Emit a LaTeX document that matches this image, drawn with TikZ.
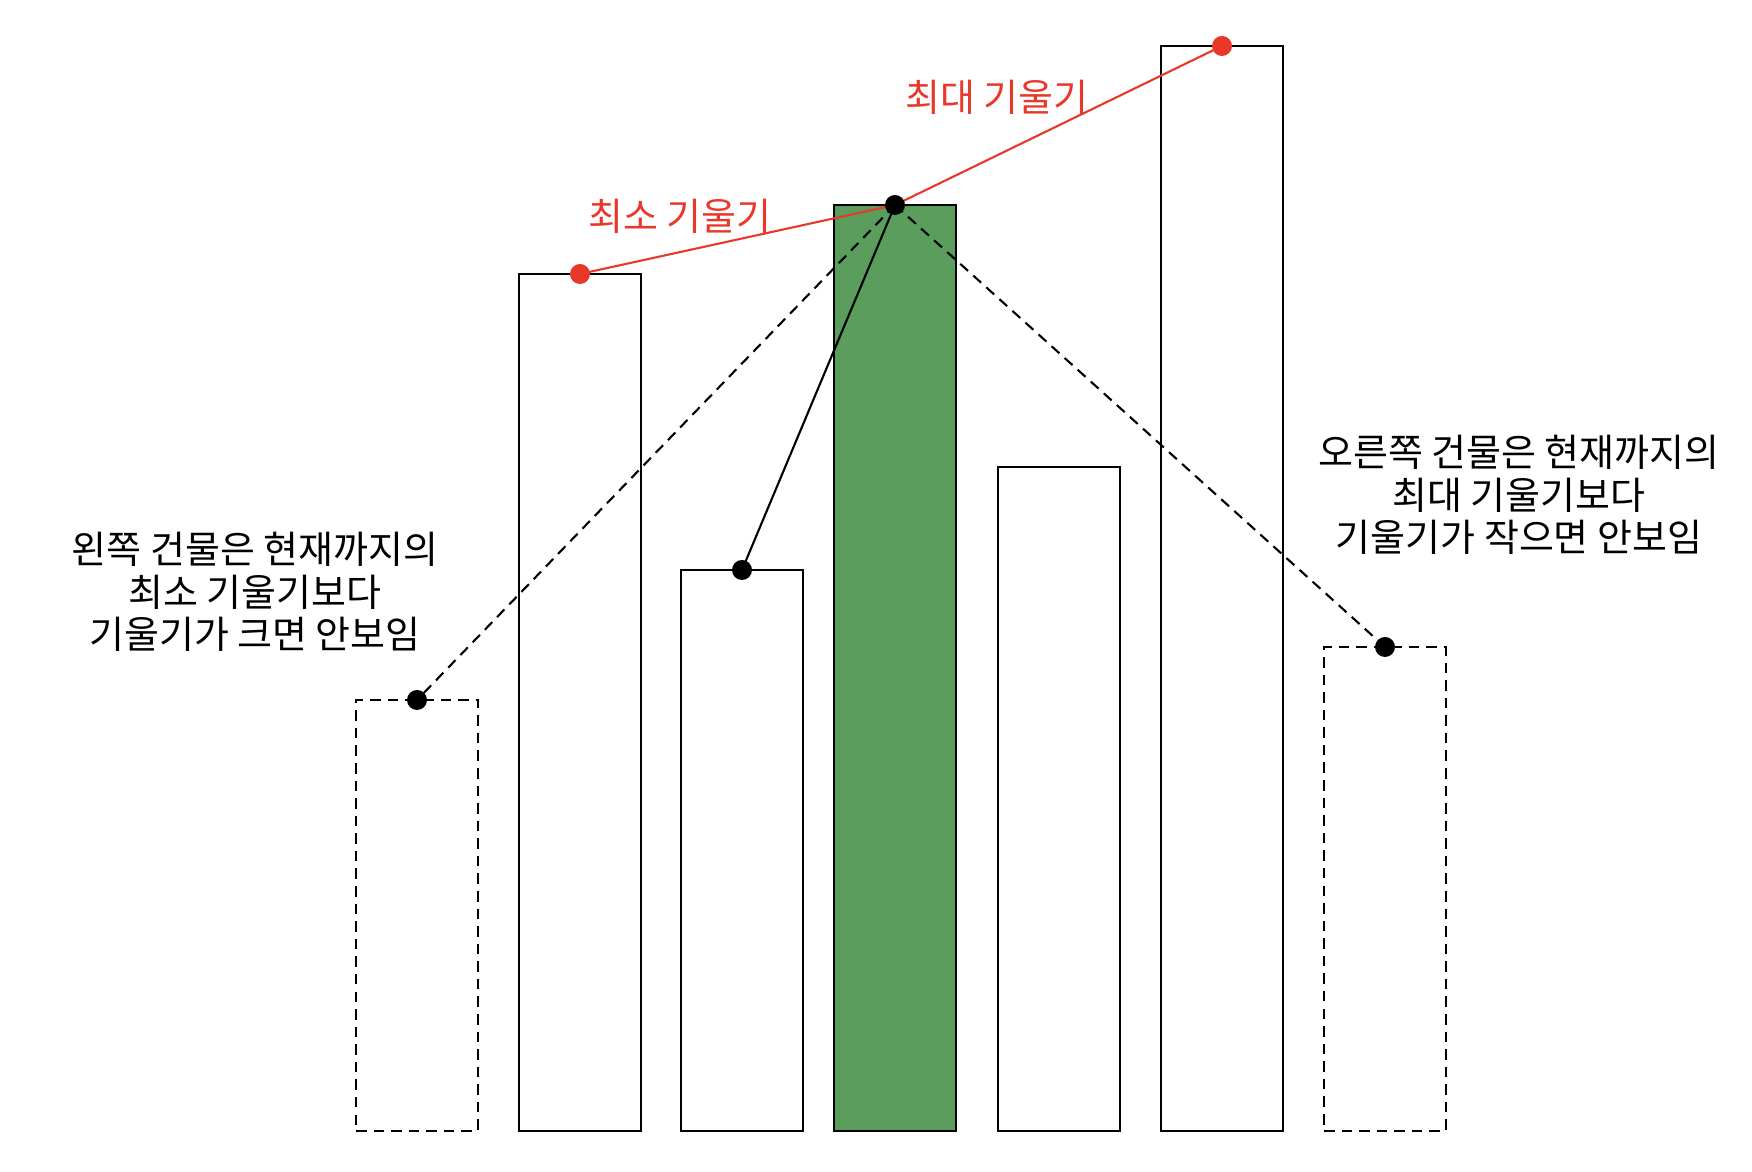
\documentclass[tikz,border=0pt]{standalone}
\usepackage{fontspec}
\usepackage{xcolor}
\usetikzlibrary{positioning}
\newfontfamily\kr{Noto Sans CJK KR}
\definecolor{slopered}{RGB}{232,56,42}
\definecolor{bldggreen}{RGB}{90,157,92}

\begin{document}
\begin{tikzpicture}[
    bldg/.style={draw=black, line width=0.6pt, fill=white, minimum width=1.22cm, inner sep=0pt, outer sep=0pt, anchor=south west},
    hidden/.style={bldg, dash pattern=on 3pt off 2pt},
    cur/.style={bldg, fill=bldggreen},
    dot/.style={circle, fill=black, inner sep=0pt, minimum size=0.2cm},
    rdot/.style={dot, fill=slopered},
    note/.style={font=\kr\fontsize{10.8pt}{12.1pt}\selectfont, align=center},
    rnote/.style={note, text=slopered}
]
\useasboundingbox (0,0) rectangle (17.52,11.72);

% 건물들
\node[hidden, minimum height=4.31cm] (hl) at (3.56, 0.41) {};
\node[bldg, minimum height=8.57cm] (b1) at (5.19, 0.41) {};
\node[bldg, minimum height=5.61cm] (b2) at (6.81, 0.41) {};
\node[cur, minimum height=9.26cm] (bc) at (8.34, 0.41) {};
\node[bldg, minimum height=6.64cm] (b4) at (9.98, 0.41) {};
\node[bldg, minimum height=10.85cm] (b5) at (11.61, 0.41) {};
\node[hidden, minimum height=4.84cm] (hr) at (13.24, 0.41) {};

% 꼭대기 점
\coordinate (tl) at (hl.north);
\coordinate (t1) at (b1.north);
\coordinate (t2) at (b2.north);
\coordinate (tc) at (bc.north);
\coordinate (t5) at (b5.north);
\coordinate (tr) at (hr.north);

% 기울기 선
\draw[dash pattern=on 3pt off 2pt, line width=0.6pt] (tc) -- (tl);
\draw[dash pattern=on 3pt off 2pt, line width=0.6pt] (tc) -- (tr);
\draw[line width=0.6pt] (tc) -- (t2);
\draw[slopered, line width=0.6pt] (t1) -- (tc) -- (t5);

\node[rdot] (p1) at (t1) {};
\node[rdot] (p5) at (t5) {};
\node[dot] (pc) at (tc) {};
\node[dot] (p2) at (t2) {};
\node[dot] (pl) at (tl) {};
\node[dot] (pr) at (tr) {};

% 라벨
\node[rnote] (minlbl) at (6.80, 9.56) {최소 기울기};
\node[rnote] (maxlbl) at (9.97, 10.75) {최대 기울기};
\node[note] (lnote) at (2.55, 5.80) {왼쪽 건물은 현재까지의\\최소 기울기보다\\기울기가 크면 안보임};
\node[note] (rnote) at (15.19, 6.77) {오른쪽 건물은 현재까지의\\최대 기울기보다\\기울기가 작으면 안보임};

\end{tikzpicture}
\end{document}
